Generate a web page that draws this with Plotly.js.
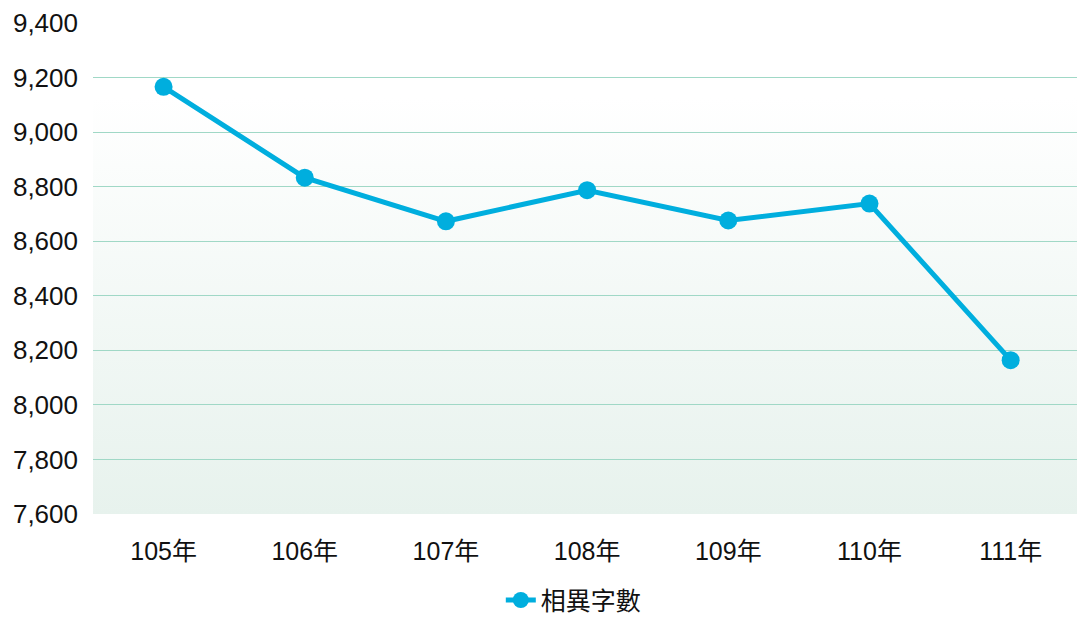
<!DOCTYPE html>
<html>
<head>
<meta charset="utf-8">
<script src="https://cdn.plot.ly/plotly-3.0.1.min.js"></script>
<style>html,body{margin:0;padding:0;background:#fff;}#chart{width:1077px;height:622px;}</style>
</head>
<body>
<div id="chart"></div>
<script>
const categories = ["105年", "106年", "107年", "108年", "109年", "110年", "111年"];
const seriesName = "相異字數";
const values = [9166, 8833, 8673, 8787, 8676, 8738, 8164];
const yTickVals = [7600, 7800, 8000, 8200, 8400, 8600, 8800, 9000, 9200, 9400];

const FONT = "Liberation Sans, Arial, 'Noto Sans CJK TC', sans-serif";
const lineColor = "rgb(0,174,222)";

const grad = '<svg xmlns="http://www.w3.org/2000/svg" width="100" height="100" preserveAspectRatio="none">' +
  '<defs><linearGradient id="g" x1="0" y1="0" x2="0" y2="1">' +
  '<stop offset="0" stop-color="#ffffff"/><stop offset="0.15" stop-color="#ffffff"/>' +
  '<stop offset="1" stop-color="#e7f2ed"/></linearGradient></defs>' +
  '<rect width="100" height="100" fill="url(#g)"/></svg>';
const gradUri = "data:image/svg+xml;base64," + btoa(grad);

const trace = {
  x: categories,
  y: values,
  type: "scatter",
  mode: "lines+markers",
  name: seriesName,
  line: {color: lineColor, width: 5},
  marker: {color: lineColor, size: 18},
  showlegend: true
};

const layout = {
  width: 1077,
  height: 622,
  margin: {l: 93, r: 0, t: 23, b: 108},
  paper_bgcolor: "#ffffff",
  plot_bgcolor: "rgba(0,0,0,0)",
  font: {family: FONT, size: 26, color: "#111111"},
  images: [{
    source: gradUri, xref: "paper", yref: "paper",
    x: 0, y: 1, sizex: 1, sizey: 1, sizing: "stretch",
    xanchor: "left", yanchor: "top", layer: "below"
  }],
  xaxis: {
    type: "category",
    range: [-0.5, 6.47],
    showgrid: false,
    zeroline: false,
    showline: false,
    ticks: "",
    tickfont: {family: FONT, size: 25, color: "#111111"},
    ticklabelstandoff: 20,
    fixedrange: true
  },
  yaxis: {
    range: [7600, 9400],
    tickvals: yTickVals,
    ticktext: yTickVals.map(v => v.toLocaleString("en-US")),
    showgrid: true,
    gridcolor: "rgb(160,216,198)",
    gridwidth: 1,
    zeroline: false,
    showline: false,
    ticks: "",
    tickfont: {family: FONT, size: 26, color: "#111111"},
    ticklabelstandoff: 14,
    fixedrange: true
  },
  showlegend: true,
  legend: {
    orientation: "h",
    xref: "container", yref: "container",
    x: 0.465, xanchor: "left",
    y: 0.035, yanchor: "middle",
    font: {family: FONT, size: 25, color: "#111111"},
    bgcolor: "rgba(0,0,0,0)"
  }
};

Plotly.newPlot("chart", [trace], layout, {displayModeBar: false, staticPlot: true});
</script>
</body>
</html>
